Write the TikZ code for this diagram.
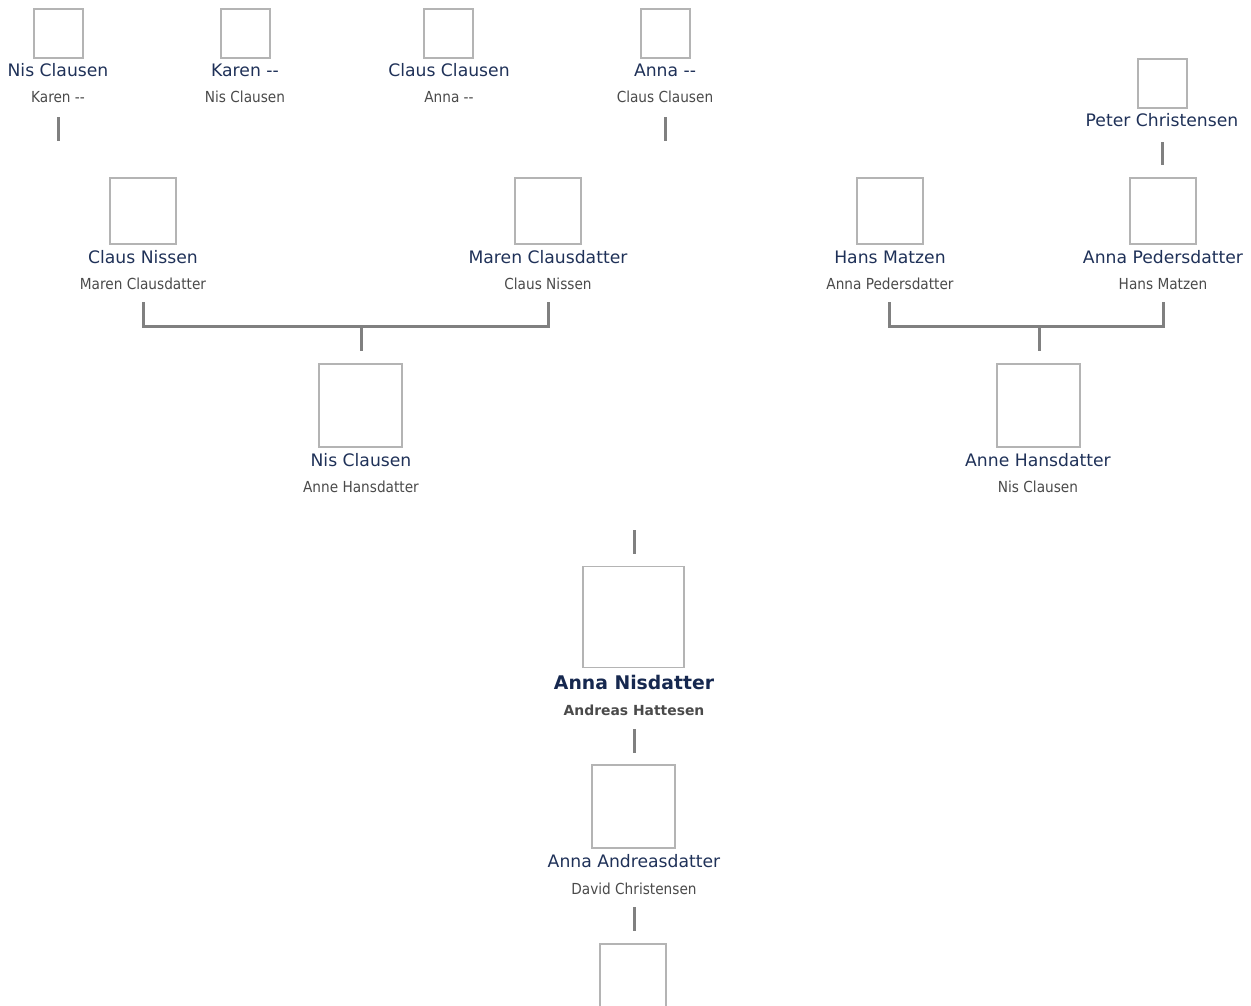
\documentclass[tikz,border=0pt]{standalone}
\usepackage{fontspec}
\setmainfont{DejaVu Sans}
\newfontfamily\subfont{DejaVu Sans Condensed}
\definecolor{navy}{HTML}{1F3158}
\definecolor{boldnavy}{HTML}{16284F}
\definecolor{subgray}{HTML}{4A4A4A}
\definecolor{boxgray}{HTML}{B4B4B4}
\definecolor{linegray}{HTML}{808080}
\begin{document}
\begin{tikzpicture}[x=1pt,y=-1pt,
  photo/.style={draw=boxgray, line width=1.7pt, fill=white, minimum width=#1, minimum height=#1, inner sep=0pt, outer sep=0pt},
  pname/.style={text=navy, font=\fontsize{17.2}{19}\selectfont, inner sep=0pt, anchor=base},
  pnamebold/.style={text=boldnavy, font=\bfseries\fontsize{18.8}{21}\selectfont, inner sep=0pt, anchor=base},
  psub/.style={text=subgray, font=\subfont\fontsize{15.2}{17}\selectfont, inner sep=0pt, anchor=base},
  psubbold/.style={text=subgray, font=\bfseries\fontsize{13.9}{16}\selectfont, inner sep=0pt, anchor=base},
  link/.style={draw=linegray, line width=3pt}]
\useasboundingbox (0,0) rectangle (1251,1005);
\clip (0,0) rectangle (1251,1005);

% generation 4
\node[photo=49] (b1) at (58.5,33.5) {};
\node[pname] (n1) at (58,76) {Nis Clausen};
\node[psub] (s1) at (58,102) {Karen --};
\node[photo=49] (b2) at (245.5,33.5) {};
\node[pname] (n2) at (245,76) {Karen -{}-};
\node[psub] (s2) at (245,102) {Nis Clausen};
\node[photo=49] (b3) at (448.5,33.5) {};
\node[pname] (n3) at (449,76) {Claus Clausen};
\node[psub] (s3) at (449,102) {Anna --};
\node[photo=49] (b4) at (665.5,33.5) {};
\node[pname] (n4) at (665,76) {Anna -{}-};
\node[psub] (s4) at (665,102) {Claus Clausen};
\node[photo=49] (b5) at (1162.5,83.5) {};
\node[pname] (n5) at (1162,126) {Peter Christensen};

% generation 3
\node[photo=66] (b6) at (143,211) {};
\node[pname] (n6) at (143,263) {Claus Nissen};
\node[psub] (s6) at (143,289) {Maren Clausdatter};
\node[photo=66] (b7) at (548,211) {};
\node[pname] (n7) at (548,263) {Maren Clausdatter};
\node[psub] (s7) at (548,289) {Claus Nissen};
\node[photo=66] (b8) at (890,211) {};
\node[pname] (n8) at (890,263) {Hans Matzen};
\node[psub] (s8) at (890,289) {Anna Pedersdatter};
\node[photo=66] (b9) at (1163,211) {};
\node[pname] (n9) at (1163,263) {Anna Pedersdatter};
\node[psub] (s9) at (1163,289) {Hans Matzen};

% generation 2
\node[photo=83] (b10) at (360.5,405.5) {};
\node[pname] (n10) at (361,466) {Nis Clausen};
\node[psub] (s10) at (361,492) {Anne Hansdatter};
\node[photo=83] (b11) at (1038.5,405.5) {};
\node[pname] (n11) at (1038,466) {Anne Hansdatter};
\node[psub] (s11) at (1038,492) {Nis Clausen};

% generation 1
\node[photo=101] (b12) at (633.5,617) {};
\node[pnamebold] (n12) at (634,689) {Anna Nisdatter};
\node[psubbold] (s12) at (634,715) {Andreas Hattesen};

% generation 0
\node[photo=83] (b13) at (633.5,806.5) {};
\node[pname] (n13) at (634,867) {Anna Andreasdatter};
\node[psub] (s13) at (634,894) {David Christensen};

\node[photo=66] (b14) at (633,977) {};

% connector ends
\coordinate (a1) at (58,117);   \coordinate (a2) at (58,141);
\coordinate (a3) at (665,117);  \coordinate (a4) at (665,141);
\coordinate (a5) at (1162,142); \coordinate (a6) at (1162,165);
\coordinate (l1) at (143,302);  \coordinate (l2) at (548,302);
\coordinate (lm) at (361,326);  \coordinate (lc) at (361,351);
\coordinate (r1) at (889,302);  \coordinate (r2) at (1163,302);
\coordinate (rm) at (1039,326); \coordinate (rc) at (1039,351);
\coordinate (m1) at (634,530);  \coordinate (m2) at (634,554);
\coordinate (m3) at (634,729);  \coordinate (m4) at (634,753);
\coordinate (m5) at (634,907);  \coordinate (m6) at (634,931);

\draw[link] (a1) -- (a2);
\draw[link] (a3) -- (a4);
\draw[link] (a5) -- (a6);
\draw[link] (l1) -- (l1 |- lm) -- (l2 |- lm) -- (l2);
\draw[link] (lm) -- (lc);
\draw[link] (r1) -- (r1 |- rm) -- (r2 |- rm) -- (r2);
\draw[link] (rm) -- (rc);
\draw[link] (m1) -- (m2);
\draw[link] (m3) -- (m4);
\draw[link] (m5) -- (m6);
\end{tikzpicture}
\end{document}
